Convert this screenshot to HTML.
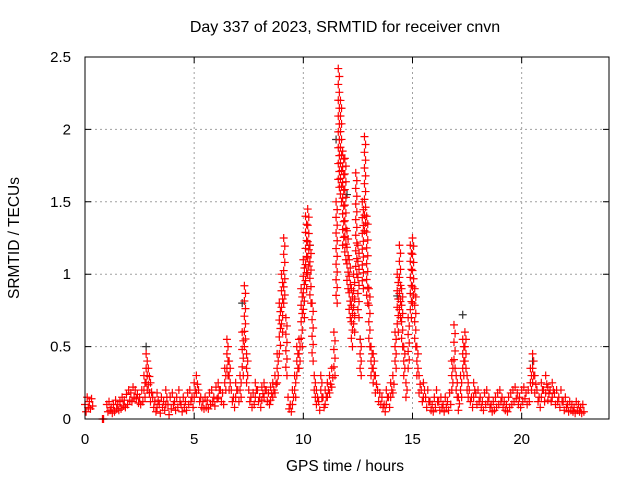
<!DOCTYPE html>
<html><head><meta charset="utf-8"><style>body{margin:0;background:#fff}svg{display:block;font-family:"Liberation Sans",sans-serif}</style></head>
<body>
<svg id="chart" width="640" height="480">
<text x="345" y="32" font-size="16" text-anchor="middle">Day 337 of 2023, SRMTID for receiver cnvn</text>
<text x="345" y="471" font-size="15.5" text-anchor="middle">GPS time / hours</text>
<text x="0" y="0" font-size="15.5" text-anchor="middle" transform="translate(19,238) rotate(-90)">SRMTID / TECUs</text>
<g id="grid"></g><g id="marks"></g>
<rect x="85" y="57" width="524" height="362" fill="none" stroke="#000" stroke-width="1"/>
<g id="ticks"></g>
</svg>
<script>
const xTicks=[0,5,10,15,20];
const yTicks=[0,0.5,1,1.5,2,2.5];
const yTickLabels=["0","0.5","1","1.5","2","2.5"];
const timeStep=0.1;
const values=[0.1,0.15,0.12,0.14,null,null,null,null,0.0,null,
0.1,0.12,0.08,0.1,0.13,0.1,0.12,0.15,0.13,0.17,
0.2,0.18,0.22,0.2,0.17,0.15,0.2,0.3,0.45,0.35,
0.25,0.15,0.12,0.18,0.1,0.15,0.12,0.2,0.1,0.15,0.18,0.12,0.15,0.2,0.1,0.15,0.12,0.18,0.2,0.15,
0.25,0.3,0.2,0.15,0.12,0.15,0.13,0.18,0.2,0.15,0.22,0.25,0.2,0.18,
0.35,0.55,0.4,0.2,0.15,0.25,0.2,0.3,0.6,0.92,0.45,
0.2,0.15,0.18,0.25,0.2,0.15,0.22,0.25,0.2,0.18,0.22,0.25,0.3,
0.45,0.8,1.0,1.25,0.7,0.15,0.1,0.2,
0.3,0.5,0.55,0.9,1.1,1.4,1.45,1.2,0.8,0.3,
0.2,0.12,0.3,0.15,0.2,0.25,0.3,0.35,
0.6,1.5,2.42,2.2,1.85,1.8,1.3,1.1,0.9,
1.0,1.7,1.2,0.55,1.5,1.95,1.4,
0.9,0.5,0.45,0.3,
0.2,0.18,0.15,0.1,0.2,0.15,0.25,0.3,
0.6,1.0,1.2,0.9,0.5,0.25,0.7,1.2,1.25,0.9,
0.5,0.3,0.2,0.25,0.15,0.2,0.12,0.1,0.15,0.2,0.12,0.15,0.1,0.15,0.12,0.18,0.4,
0.65,0.3,0.15,0.3,0.55,0.6,0.3,
0.2,0.15,0.25,0.18,0.2,0.15,0.12,0.18,0.2,0.15,0.1,0.12,0.15,0.18,0.2,0.15,0.12,0.1,0.15,0.18,0.2,0.22,0.18,0.15,0.2,0.22,0.18,0.2,
0.35,0.45,0.3,
0.2,0.15,0.25,0.2,0.3,0.22,0.2,0.25,0.18,0.2,0.15,0.2,0.12,0.15,0.1,0.12,0.1,0.08,0.12,0.1,0.08,0.1];
const lows=[0.05,0.08,0.07,0.09,null,null,null,null,0.0,null,
0.05,0.06,0.04,0.05,0.07,0.06,0.07,0.09,0.08,0.1,
0.13,0.12,0.15,0.14,0.11,0.1,0.12,0.15,0.2,0.18,
0.12,0.08,0.05,0.08,0.04,0.08,0.06,0.1,0.03,0.07,0.1,0.06,0.08,0.12,0.05,0.08,0.06,0.1,0.12,0.08,
0.15,0.18,0.12,0.08,0.07,0.08,0.07,0.1,0.12,0.09,0.14,0.15,0.12,0.1,
0.2,0.3,0.2,0.12,0.08,0.15,0.12,0.15,0.3,0.5,0.25,
0.12,0.08,0.1,0.15,0.12,0.08,0.13,0.15,0.12,0.1,0.13,0.15,0.18,
0.25,0.45,0.6,0.8,0.3,0.07,0.05,0.1,
0.15,0.3,0.35,0.5,0.7,0.9,1.0,0.8,0.4,0.15,
0.1,0.06,0.15,0.08,0.1,0.15,0.18,0.22,
0.3,0.8,1.6,1.5,1.2,1.1,0.9,0.7,0.5,
0.6,1.0,0.7,0.3,0.9,1.3,0.8,
0.5,0.3,0.25,0.18,
0.12,0.1,0.08,0.05,0.1,0.08,0.15,0.18,
0.35,0.6,0.7,0.5,0.3,0.15,0.35,0.7,0.8,0.5,
0.3,0.18,0.12,0.15,0.08,0.12,0.06,0.05,0.08,0.12,0.06,0.08,0.05,0.08,0.06,0.1,0.2,
0.35,0.15,0.06,0.15,0.3,0.35,0.15,
0.12,0.08,0.15,0.1,0.12,0.08,0.06,0.1,0.12,0.08,0.05,0.06,0.08,0.1,0.12,0.08,0.06,0.05,0.08,0.1,0.12,0.14,0.1,0.08,0.12,0.14,0.1,0.12,
0.2,0.25,0.18,
0.12,0.08,0.15,0.12,0.18,0.13,0.12,0.15,0.1,0.12,0.08,0.12,0.06,0.08,0.05,0.06,0.05,0.04,0.06,0.05,0.04,0.05];
const blackTimes=[2.8,7.2,10.3,11.5,12.0,12.6,14.3,17.3,20.5];
const blackValues=[0.5,0.8,1.2,1.93,1.55,0.55,0.85,0.72,0.4];
const NS="http://www.w3.org/2000/svg";
const X=t=>85+t*(524/24), Y=v=>419-v*(362/2.5);
const grid=document.getElementById('grid'),ticks=document.getElementById('ticks'),marks=document.getElementById('marks');
function mk(tag,a,p){const e=document.createElementNS(NS,tag);for(const k in a)e.setAttribute(k,a[k]);p.appendChild(e);return e;}
xTicks.forEach(t=>{const x=X(t);
 if(t>0){const g=mk('line',{x1:x,y1:57,x2:x,y2:419,stroke:'#a0a0a0','stroke-dasharray':'2,3'},grid);
 
 }
 const tk=mk('path',{d:`M${x} 419v-6M${x} 57v6`,stroke:'#000'},ticks);
 
 
 const l=mk('text',{x:x,y:444,'font-size':15,'text-anchor':'middle'},ticks);l.textContent=t;
 
 });
yTicks.forEach((v,i)=>{const y=Y(v);
 if(v>0&&v<2.5){const g=mk('line',{x1:85,y1:y,x2:609,y2:y,stroke:'#a0a0a0','stroke-dasharray':'2,3'},grid);
 
 }
 const tk=mk('path',{d:`M85 ${y}h6M609 ${y}h-6`,stroke:'#000'},ticks);
 
 
 const l=mk('text',{x:71,y:y+5,'font-size':15,'text-anchor':'end'},ticks);l.textContent=yTickLabels[i];
 
 });
function plus(x,y,c,name){const p=mk('path',{d:`M${x-4} ${y}h8M${x} ${y-4}v8`,stroke:c,'stroke-width':1.2},marks);
 
 }
blackValues.forEach((v,i)=>plus(X(blackTimes[i]),Y(v),'#333','black-point'));
values.forEach((v,i)=>{if(v===null)return;
 const lo=lows[i]===null?v:lows[i];
 const t=i*timeStep;
 const yHi=Y(v),yLo=Y(lo);
 const n=Math.max(1,Math.round((yLo-yHi)/8));
 for(let k=0;k<=n;k++){const y=yHi+(yLo-yHi)*k/n;
  plus(X(t+(k%2?timeStep/2:0)),y,'#f00','srmtid-point');}
});
</script>
</body></html>
